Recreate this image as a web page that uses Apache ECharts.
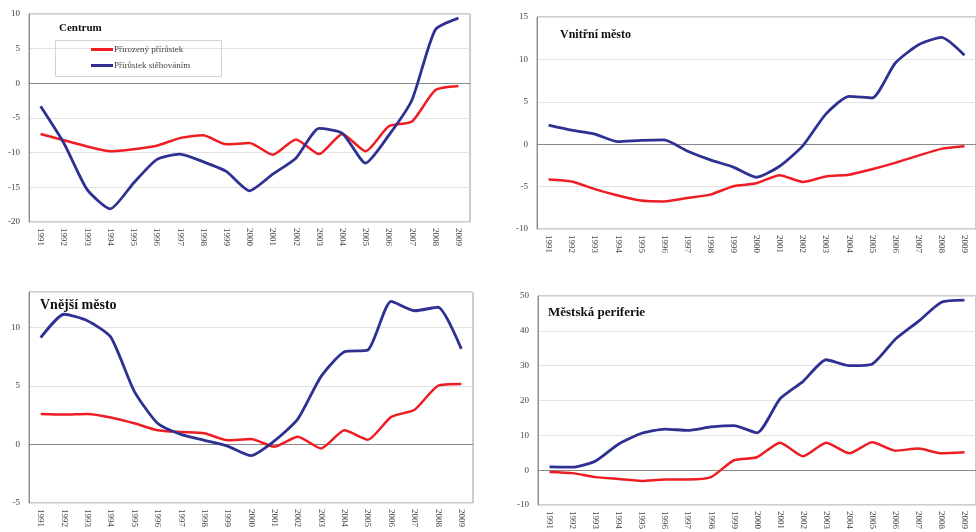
<!DOCTYPE html>
<html>
<head>
<meta charset="utf-8">
<script src="https://cdn.jsdelivr.net/npm/echarts@6/dist/echarts.min.js"></script>
<style>
html,body{margin:0;padding:0;background:#fff;}
#chart{width:976px;height:532px;}
</style>
</head>
<body>
<div id="chart"></div>
<script>
var years = ['1991','1992','1993','1994','1995','1996','1997','1998','1999','2000','2001','2002','2003','2004','2005','2006','2007','2008','2009'];
var seriesNames = ['Přirozený přírůstek','Přírůstek stěhováním'];
var panelTitles = ['Centrum','Vnitřní město','Vnější město','Městská periferie'];

var centrumNatural = [-7.3,-8.2,-9.1,-9.8,-9.5,-9.0,-7.9,-7.5,-8.8,-8.6,-10.3,-8.1,-10.2,-7.3,-9.8,-6.2,-5.5,-1.0,-0.4];
var centrumMigration = [-3.3,-8.6,-15.3,-18.1,-14.4,-11.0,-10.2,-11.3,-12.7,-15.5,-13.1,-10.8,-6.5,-7.2,-11.5,-7.5,-2.4,7.7,9.4];
var vnitrniNatural = [-4.15,-4.4,-5.3,-6.05,-6.65,-6.75,-6.35,-5.95,-4.95,-4.6,-3.65,-4.45,-3.8,-3.6,-2.95,-2.2,-1.35,-0.55,-0.25];
var vnitrniMigration = [2.25,1.65,1.2,0.3,0.45,0.5,-0.8,-1.85,-2.7,-3.9,-2.6,-0.2,3.55,5.65,5.45,9.55,11.7,12.6,10.5];
var vnejsiNatural = [2.6,2.55,2.6,2.3,1.8,1.2,1.05,0.95,0.35,0.45,-0.2,0.65,-0.35,1.2,0.4,2.35,2.95,5.0,5.15];
var vnejsiMigration = [9.1,11.1,10.55,9.15,4.55,1.8,0.85,0.35,-0.15,-0.95,0.3,2.15,5.8,7.9,8.05,12.2,11.4,11.7,8.15];
var periferieNatural = [-0.5,-0.85,-2.0,-2.55,-3.1,-2.65,-2.65,-2.0,2.85,3.7,7.9,4.0,7.9,4.85,8.0,5.6,6.2,4.85,5.15];
var periferieMigration = [0.95,0.85,2.65,7.5,10.6,11.8,11.4,12.4,12.8,10.7,20.5,25.5,31.7,30.0,30.5,37.6,42.7,48.2,48.8];

var yMins = [-20,-10,-5,-10];
var yMaxs = [10,15,13,50];
var yIntervals = [5,5,5,10];

var naturalData = [centrumNatural, vnitrniNatural, vnejsiNatural, periferieNatural];
var migrationData = [centrumMigration, vnitrniMigration, vnejsiMigration, periferieMigration];

var RED = '#ee1d23';
var BLUE = '#2e3192';
var FONT = 'Liberation Serif';

var grids = [
  {left:29, top:14, width:441, height:208},
  {left:537, top:17, width:443, height:212},
  {left:29, top:292, width:444, height:211},
  {left:538, top:296, width:442, height:211}
];

var option = {
  backgroundColor:'#ffffff',
  animation:false,
  grid: grids.map(function(g){ return Object.assign({show:true, borderColor:'#9a9a9a', borderWidth:1, backgroundColor:'#ffffff', containLabel:false}, g); }),
  xAxis: grids.map(function(g,i){ return {
    type:'category', gridIndex:i, data:years, boundaryGap:true,
    axisLine:{show:true, lineStyle:{color:'#8a8a8a'}},
    axisTick:{show:false},
    axisLabel:{rotate:-90, fontFamily:FONT, fontSize:9, color:'#444', margin:6, interval:0},
    splitLine:{show:false}
  };}),
  yAxis: grids.map(function(g,i){ return {
    type:'value', gridIndex:i, min:yMins[i], max:yMaxs[i], interval:yIntervals[i],
    axisLine:{show:true, lineStyle:{color:'#8a8a8a'}},
    axisTick:{show:false},
    axisLabel:{fontFamily:FONT, fontSize:9, color:'#444', margin:9, showMaxLabel: i!==2},
    splitLine:{show:true, lineStyle:{color:'#e2e2e2', width:1}}
  };}),
  legend:{
    left:86, top:40, orient:'vertical', itemGap:7,
    itemWidth:22, itemHeight:3, icon:'rect',
    data:seriesNames,
    textStyle:{fontFamily:FONT, fontSize:9, color:'#444', padding:[0,0,0,-4]}
  },
  graphic:[
    {type:'rect', left:53, top:38, shape:{width:166, height:36}, style:{fill:'none', stroke:'#d4d4d4', lineWidth:1}, z:1},
    {type:'text', left:59, top:23, style:{text:panelTitles[0], font:'bold 11px "Liberation Serif"', fill:'#111'}, z:10},
    {type:'text', left:560, top:29, style:{text:panelTitles[1], font:'bold 12px "Liberation Serif"', fill:'#111'}, z:10},
    {type:'text', left:40, top:298, style:{text:panelTitles[2], font:'bold 14px "Liberation Serif"', fill:'#111'}, z:10},
    {type:'text', left:548, top:306, style:{text:panelTitles[3], font:'bold 13px "Liberation Serif"', fill:'#111'}, z:10}
  ],
  series:[]
};

for (var i=0;i<4;i++){
  option.series.push({name:seriesNames[0], type:'line', xAxisIndex:i, yAxisIndex:i, data:naturalData[i],
    showSymbol:false, smooth:0.2, lineStyle:{color:RED, width:2.5}, itemStyle:{color:RED}, z:3});
  option.series.push({name:seriesNames[1], type:'line', xAxisIndex:i, yAxisIndex:i, data:migrationData[i],
    showSymbol:false, smooth:0.2, lineStyle:{color:BLUE, width:2.8}, itemStyle:{color:BLUE}, z:4});
}

var chart = echarts.init(document.getElementById('chart'), null, {renderer:'canvas'});
chart.setOption(option);
</script>
</body>
</html>
